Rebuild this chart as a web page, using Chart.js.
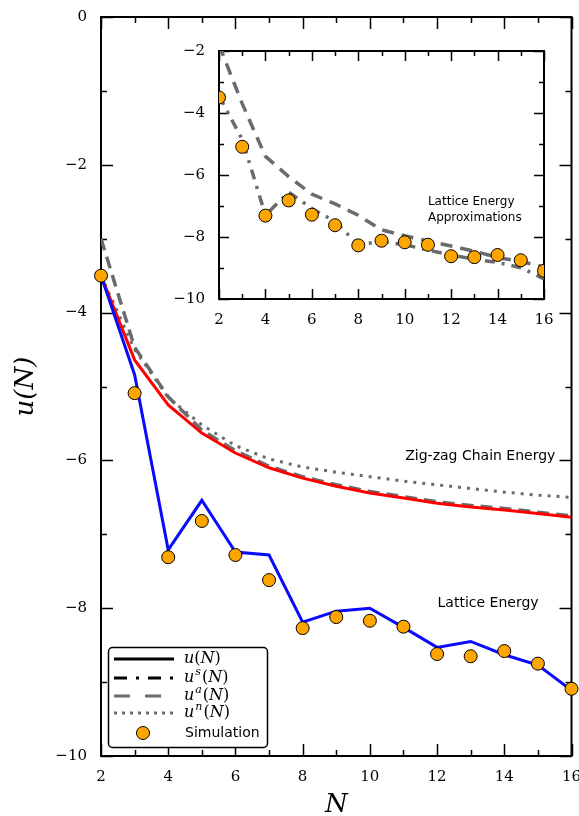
<!DOCTYPE html>
<html>
<head>
<meta charset="utf-8">
<script src="https://cdn.jsdelivr.net/npm/chart.js@4.4.1/dist/chart.umd.min.js"></script>
<style>
html, body { margin: 0; padding: 0; background: #fff; }
#wrap { position: relative; width: 579px; height: 816px; }
#mainChart { position: absolute; left: 0; top: 0; }
#insetChart { position: absolute; left: 160px; top: 30px; }
</style>
</head>
<body>
<div id="wrap">
  <canvas id="mainChart" width="579" height="816"></canvas>
  <canvas id="insetChart" width="410" height="310"></canvas>
</div>
<script>
// cluster size
var sizes = [2, 3, 4, 5, 6, 7, 8, 9, 10, 11, 12, 13, 14, 15, 16];

// simulated energies (orange circles)
var simulation = [-3.50, -5.09, -7.31, -6.82, -7.28, -7.62, -8.27, -8.12, -8.17, -8.25, -8.62, -8.65, -8.58, -8.75, -9.09];

// main plot curves
var latticeEnergy = [-3.50, -4.84, -7.21, -6.54, -7.24, -7.28, -8.19, -8.04, -8.00, -8.26, -8.53, -8.45, -8.63, -8.77, -9.11];
var chainEnergy = [-3.50, -4.64, -5.25, -5.63, -5.90, -6.10, -6.24, -6.35, -6.44, -6.51, -6.58, -6.63, -6.67, -6.72, -6.77];
var chainApprox = [-3.00, -4.47, -5.14, -5.59, -5.87, -6.08, -6.22, -6.33, -6.42, -6.49, -6.56, -6.61, -6.65, -6.70, -6.75];
var chainNearest = [-3.50, -4.50, -5.15, -5.52, -5.80, -5.98, -6.09, -6.16, -6.22, -6.28, -6.33, -6.38, -6.43, -6.47, -6.50];

// inset curves (lattice energy approximations)
var latticeApprox = [-1.80, -3.70, -5.40, -6.05, -6.62, -6.93, -7.30, -7.77, -7.96, -8.13, -8.29, -8.46, -8.66, -8.79, -8.96];
var latticeSeries = [-3.45, -4.85, -7.30, -6.55, -7.08, -7.50, -8.25, -8.15, -8.25, -8.42, -8.58, -8.72, -8.82, -8.99, -9.35];

// legend
var legendSups = ['', 's', 'a', 'n'];

var GRAY = '#6b6b6b';
var ORANGE = '#ffa500';

function pairs(values) {
    return sizes.map(function (n, i) { return { x: n, y: values[i] }; });
}

function minusSign(value) {
    return String(value).replace('-', '\u2212');
}

// frame + inward ticks on all four sides
var axisFrame = {
    id: 'axisFrame',
    beforeDatasetsDraw: function (chart, args, opts) {
        var ctx = chart.ctx, a = chart.chartArea, x = chart.scales.x, y = chart.scales.y;
        ctx.save();
        ctx.strokeStyle = '#000';
        ctx.lineWidth = 1.5;
        ctx.beginPath();
        for (var v = x.min; v <= x.max; v++) {
            var px = Math.round(x.getPixelForValue(v)) + 0.5;
            var len = v % 2 === 0 ? opts.major : opts.minor;
            ctx.moveTo(px, a.bottom); ctx.lineTo(px, a.bottom - len);
            ctx.moveTo(px, a.top); ctx.lineTo(px, a.top + len);
        }
        for (var w = Math.ceil(y.min); w <= y.max; w++) {
            var py = Math.round(y.getPixelForValue(w)) + 0.5;
            var l2 = w % 2 === 0 ? opts.major : opts.minor;
            ctx.moveTo(a.left, py); ctx.lineTo(a.left + l2, py);
            ctx.moveTo(a.right, py); ctx.lineTo(a.right - l2, py);
        }
        ctx.stroke();
        ctx.lineWidth = 2;
        ctx.strokeRect(a.left, a.top, a.right - a.left, a.bottom - a.top);
        ctx.restore();
    }
};

// text labels placed in data coordinates
var notes = {
    id: 'notes',
    afterDatasetsDraw: function (chart, args, opts) {
        var ctx = chart.ctx;
        ctx.save();
        ctx.fillStyle = '#000';
        ctx.textBaseline = 'middle';
        opts.items.forEach(function (it) {
            ctx.font = it.size + 'px "DejaVu Sans"';
            ctx.textAlign = it.align;
            ctx.fillText(it.text, chart.scales.x.getPixelForValue(it.x), chart.scales.y.getPixelForValue(it.y));
        });
        ctx.restore();
    }
};

function drawMathLabel(ctx, x, y, sup) {
    ctx.font = 'italic 16px "DejaVu Serif"';
    ctx.fillText('u', x, y);
    x += ctx.measureText('u').width;
    if (sup) {
        ctx.font = 'italic 11px "DejaVu Serif"';
        ctx.fillText(sup, x + 1, y - 6);
        x += ctx.measureText(sup).width + 2;
    }
    ctx.font = '16px "DejaVu Serif"';
    ctx.fillText('(', x, y);
    x += ctx.measureText('(').width;
    ctx.font = 'italic 16px "DejaVu Serif"';
    ctx.fillText('N', x, y);
    x += ctx.measureText('N').width;
    ctx.font = '16px "DejaVu Serif"';
    ctx.fillText(')', x, y);
}

var legendBox = {
    id: 'legendBox',
    afterDatasetsDraw: function (chart) {
        var ctx = chart.ctx;
        var rows = [659, 678, 696, 713, 733];
        var styles = [
            { color: '#000', dash: [] },
            { color: '#000', dash: [13, 9, 3, 9] },
            { color: GRAY, dash: [16, 15] },
            { color: GRAY, dash: [3, 5] }
        ];
        ctx.save();
        ctx.beginPath();
        ctx.roundRect(108.5, 647.5, 159, 100, 4);
        ctx.fillStyle = '#fff';
        ctx.fill();
        ctx.lineWidth = 1.5;
        ctx.strokeStyle = '#000';
        ctx.stroke();

        styles.forEach(function (s, i) {
            ctx.beginPath();
            ctx.setLineDash(s.dash);
            ctx.strokeStyle = s.color;
            ctx.lineWidth = 3;
            ctx.moveTo(114, rows[i]);
            ctx.lineTo(174, rows[i]);
            ctx.stroke();
            ctx.setLineDash([]);
            ctx.fillStyle = '#000';
            ctx.textAlign = 'left';
            ctx.textBaseline = 'middle';
            drawMathLabel(ctx, 184, rows[i], legendSups[i]);
        });

        ctx.beginPath();
        ctx.arc(143, rows[4], 6.5, 0, Math.PI * 2);
        ctx.fillStyle = ORANGE;
        ctx.fill();
        ctx.lineWidth = 1;
        ctx.strokeStyle = '#000';
        ctx.stroke();
        ctx.fillStyle = '#000';
        ctx.font = '14px "DejaVu Sans"';
        ctx.fillText('Simulation', 185, rows[4]);
        ctx.restore();
    }
};

function tickFont() {
    return { family: '"DejaVu Serif"', size: 15 };
}

function axes(xHeight, yWidth, titles) {
    return {
        x: {
            type: 'linear', min: 2, max: 16,
            grid: { display: false, drawTicks: false },
            border: { display: false },
            ticks: { stepSize: 2, padding: 12, color: '#000', font: tickFont(), maxRotation: 0, callback: minusSign },
            title: titles ? { display: true, text: 'N', color: '#000', padding: { top: 0, bottom: -5 },
                font: { family: '"DejaVu Serif"', style: 'italic', size: 26 } } : { display: false },
            afterFit: function (s) { s.height = xHeight; s.paddingLeft = 0; s.paddingRight = 0; }
        },
        y: {
            type: 'linear',
            grid: { display: false, drawTicks: false },
            border: { display: false },
            ticks: { stepSize: 2, padding: 14, color: '#000', font: tickFont(), callback: minusSign },
            title: titles ? { display: true, text: 'u(N)', color: '#000', padding: { top: 11, bottom: 0 },
                font: { family: '"DejaVu Serif"', style: 'italic', size: 26 } } : { display: false },
            afterFit: function (s) { s.width = yWidth; s.paddingTop = 0; s.paddingBottom = 0; }
        }
    };
}

var mainScales = axes(60, 101, true);
mainScales.y.min = -10;
mainScales.y.max = 0;

new Chart(document.getElementById('mainChart'), {
    type: 'line',
    data: {
        datasets: [
            { label: 'Simulation', data: pairs(simulation), showLine: false, clip: false,
              pointRadius: 6.5, pointBackgroundColor: ORANGE, pointBorderColor: '#000', pointBorderWidth: 1 },
            { label: 'Lattice Energy', data: pairs(latticeEnergy), borderColor: '#0a0aff', borderWidth: 3, pointRadius: 0 },
            { label: 'Zig-zag Chain Energy', data: pairs(chainEnergy), borderColor: '#ff0000', borderWidth: 3, pointRadius: 0 },
            { label: 'u^a(N)', data: pairs(chainApprox), borderColor: GRAY, borderWidth: 3.5, borderDash: [12, 7], pointRadius: 0 },
            { label: 'u^n(N)', data: pairs(chainNearest), borderColor: GRAY, borderWidth: 3, borderDash: [3, 6], pointRadius: 0 }
        ]
    },
    options: {
        responsive: false,
        animation: false,
        events: [],
        layout: { padding: { top: 17, right: 7, bottom: 0, left: 0 } },
        scales: mainScales,
        plugins: {
            legend: { display: false },
            tooltip: { enabled: false },
            axisFrame: { major: 12, minor: 6 },
            notes: { items: [
                { text: 'Zig-zag Chain Energy', x: 15.52, y: -5.94, align: 'right', size: 14 },
                { text: 'Lattice Energy', x: 15.02, y: -7.94, align: 'right', size: 14 }
            ] }
        }
    },
    plugins: [axisFrame, notes, legendBox]
});

var insetScales = axes(41, 59, false);
insetScales.y.min = -10;
insetScales.y.max = -2;

new Chart(document.getElementById('insetChart'), {
    type: 'line',
    data: {
        datasets: [
            { label: 'Simulation', data: pairs(simulation), showLine: false,
              pointRadius: 6.5, pointBackgroundColor: ORANGE, pointBorderColor: '#000', pointBorderWidth: 1 },
            { label: 'u^s(N)', data: pairs(latticeSeries), borderColor: GRAY, borderWidth: 3.5, borderDash: [10, 7, 3, 7], pointRadius: 0 },
            { label: 'u^a(N)', data: pairs(latticeApprox), borderColor: GRAY, borderWidth: 3.5, borderDash: [12, 8], pointRadius: 0 }
        ]
    },
    options: {
        responsive: false,
        animation: false,
        events: [],
        layout: { padding: { top: 21, right: 26, bottom: 0, left: 0 } },
        scales: insetScales,
        plugins: {
            legend: { display: false },
            tooltip: { enabled: false },
            axisFrame: { major: 10, minor: 5 },
            notes: { items: [
                { text: 'Lattice Energy', x: 11.0, y: -6.87, align: 'left', size: 12 },
                { text: 'Approximations', x: 11.0, y: -7.39, align: 'left', size: 12 }
            ] }
        }
    },
    plugins: [axisFrame, notes]
});
</script>
</body>
</html>
